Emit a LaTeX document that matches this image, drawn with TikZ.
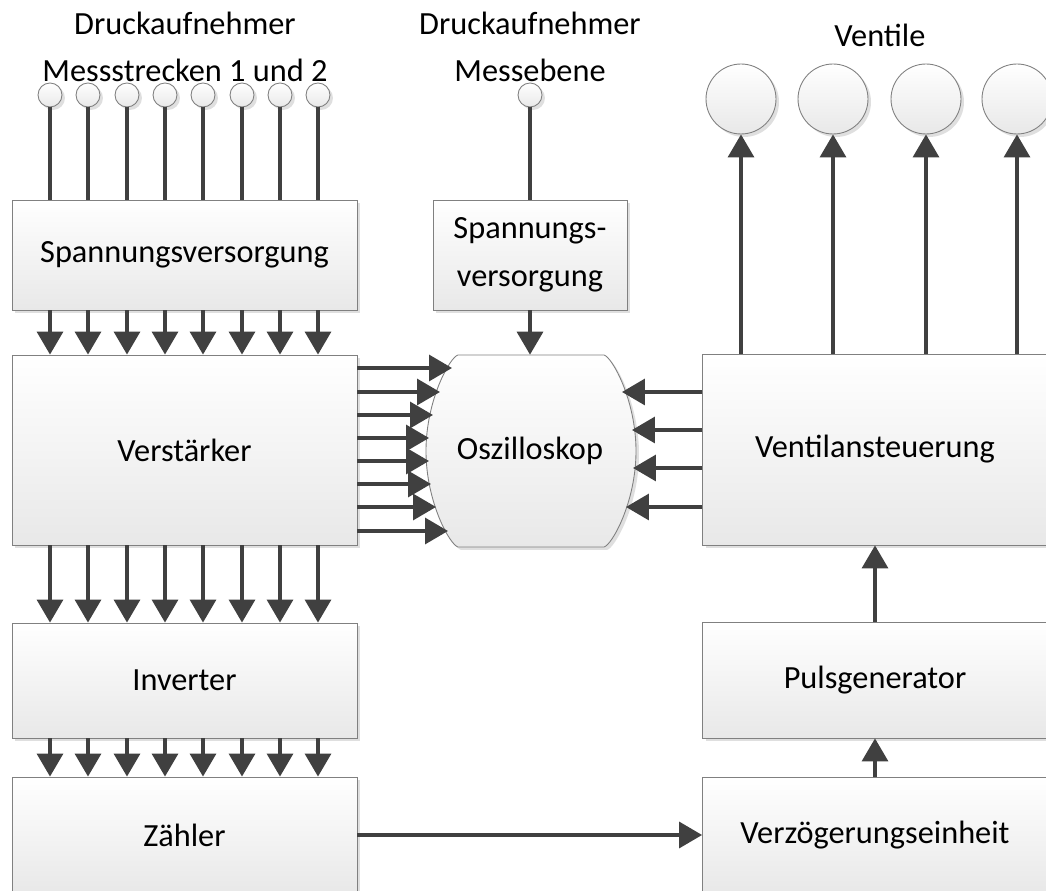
\documentclass[tikz,border=0pt]{standalone}
\usepackage{fontspec}
\setmainfont{Carlito}
\usepackage{xcolor}
\usepackage{tikz}
\usetikzlibrary{positioning,shadows,calc,arrows.meta}

\definecolor{linegray}{HTML}{404040}
\definecolor{framegray}{HTML}{808080}

\begin{document}
\begin{tikzpicture}[x=0.02cm, y=-0.02cm,
    font=\fontsize{18.4}{27}\selectfont,
    shade/.style={draw=framegray, line width=0.5pt, top color=white, bottom color=black!9,
        drop shadow={shadow xshift=0.06cm, shadow yshift=-0.06cm, opacity=0.25}},
    box/.style={shade, minimum width=6.9cm, inner sep=0pt},
    sensor/.style={shade, circle, minimum size=0.48cm, inner sep=0pt},
    valve/.style={sensor, minimum size=1.4cm},
    wire/.style={draw=linegray, line width=1.9pt},
    arr/.style={wire, -{Triangle[length=0.46cm, width=0.52cm]}}
]
\useasboundingbox (0,0) rectangle (1046,891);
\clip (0,0) rectangle (1046,891);
\fill[white] (0,0) rectangle (1046,891);

% Ueberschriften
\node[align=center] (tmess) at (185,47) {Druckaufnehmer\\Messstrecken 1 und 2};
\node[align=center] (tebene) at (530,47) {Druckaufnehmer\\Messebene};
\node (tvent) at (880,35) {Ventile};

% Linke Kette
\node[box, minimum height=2.2cm] (sv) at (184.5,255) {Spannungsversorgung};
\node[box, minimum height=3.8cm] (vs) at (184.5,450) {Verstärker};
\node[box, minimum height=2.3cm] (inv) at (184.5,680.5) {Inverter};
\node[box, minimum height=2.32cm] (zl) at (184.5,835) {Zähler};

% Druckaufnehmer
\foreach \i/\x in {1/50,2/88,3/127,4/165,5/203,6/242,7/280,8/318} {
    \node[sensor] (s\i) at (\x,95) {};
    \draw[wire] (s\i.south) -- (sv.north -| s\i);
    \draw[arr] (sv.south -| s\i) -- (vs.north -| s\i);
    \draw[arr] (vs.south -| s\i) -- (inv.north -| s\i);
    \draw[arr] (inv.south -| s\i) -- (zl.north -| s\i);
}

% Mitte
\node[box, minimum width=3.88cm, minimum height=2.2cm, align=center] (msv) at (530,255) {Spannungs-\\versorgung};
\node[sensor] (m) at (530,95) {};
\draw[wire] (m.south) -- (msv.north);
\draw[shade] (458,355) -- (604,355) .. controls (612,357) and (636,400) .. (636,451)
    .. controls (636,502) and (612,545) .. (604,547)
    -- (458,547) .. controls (450,545) and (426,502) .. (426,451)
    .. controls (426,400) and (450,357) .. (458,355) -- cycle;
\node[minimum width=3.9cm, minimum height=3.84cm, inner sep=0pt] (osc) at (530,451) {Oszilloskop};
\draw[arr] (msv.south) -- (osc.north);

% Rechte Kette
\node[box, minimum height=3.82cm] (va) at (875,449.5) {Ventilansteuerung};
\node[box, minimum height=2.32cm] (pg) at (875,680) {Pulsgenerator};
\node[box, minimum height=2.32cm] (vz) at (875,835) {Verzögerungseinheit};

% Ventile
\foreach \i/\x in {1/741,2/833,3/926,4/1017} {
    \node[valve] (v\i) at (\x,99) {};
    \draw[arr] (va.north -| v\i) -- (v\i.south);
}

% Eingaenge Oszilloskop
\foreach \i/\x/\y in {1/452/368,2/440/392,3/433/415,4/429/438,5/429/461,6/431/484,7/436/507,8/448/531} {
    \coordinate (oL\i) at (\x,\y);
    \draw[arr] (vs.east |- oL\i) -- (oL\i);
}
\foreach \i/\x/\y in {1/622/392,2/632/430,3/633/468,4/626/507} {
    \coordinate (oR\i) at (\x,\y);
    \draw[arr] (va.west |- oR\i) -- (oR\i);
}

\draw[arr] (zl.east) -- (vz.west);
\draw[arr] (vz.north) -- (pg.south);
\draw[arr] (pg.north) -- (va.south);
\end{tikzpicture}
\end{document}
